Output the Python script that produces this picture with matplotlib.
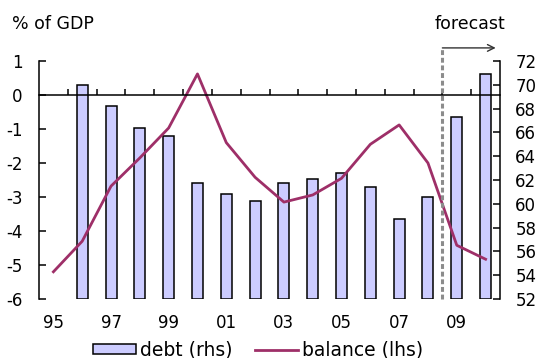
import matplotlib
matplotlib.use("Agg")
import matplotlib.pyplot as plt
from matplotlib.lines import Line2D
from matplotlib.patches import Patch

plt.rcParams["font.family"] = ["DejaVu Sans"]
plt.rcParams["axes.unicode_minus"] = False

years = ["95", "96", "97", "98", "99", "00", "01", "02",
         "03", "04", "05", "06", "07", "08", "09", "10"]
balance = [-5.2, -4.3, -2.68, -1.85, -0.97, 0.62, -1.4, -2.42,
           -3.15, -2.94, -2.45, -1.45, -0.88, -2.0, -4.42, -4.83]
debt_years = ["96", "97", "98", "99", "00", "01", "02", "03",
              "04", "05", "06", "07", "08", "09", "10"]
debt = [70.0, 68.25, 66.4, 65.7, 61.75, 60.85, 60.25, 61.75,
        62.1, 62.6, 61.4, 58.7, 60.6, 67.3, 70.9]
xlabels = ["95", "97", "99", "01", "03", "05", "07", "09"]
forecast_start = "09"

LINE_COLOR = "#9E2F68"
BAR_COLOR = "#CCCCFF"
FS = 12

fig = plt.figure(figsize=(5.41, 3.58), dpi=100)
ax = fig.add_axes([39 / 541, 1 - 299 / 358, 461 / 541, 238 / 358])
ax2 = ax.twinx()
ax2.set_zorder(ax.get_zorder() - 1)
ax.patch.set_visible(False)

pos = {y: i for i, y in enumerate(years)}

# debt bars on the right-hand scale
bx = [pos[y] for y in debt_years]
ax2.bar(bx, [d - 52 for d in debt], bottom=52, width=0.38,
        color=BAR_COLOR, edgecolor="black", linewidth=1.1)
ax2.set_ylim(52, 72)
ax2.set_yticks(range(52, 73, 2))
for s in ["left", "top", "bottom"]:
    ax2.spines[s].set_visible(False)
ax2.spines["right"].set_linewidth(1.1)
ax2.tick_params(axis="y", direction="in", length=5, width=1.1,
                labelsize=FS, pad=11)

# balance line on the left-hand scale
ax.plot([pos[y] for y in years], balance, color=LINE_COLOR, lw=2.0,
        solid_joinstyle="round")
ax.set_ylim(-6, 1)
ax.set_yticks(range(-6, 2))
ax.set_xlim(-0.5, len(years) - 0.5)
for s in ["top", "right"]:
    ax.spines[s].set_visible(False)
ax.spines["left"].set_linewidth(1.1)
ax.spines["bottom"].set_position(("data", 0))
ax.spines["bottom"].set_linewidth(1.1)
ax.tick_params(axis="y", direction="in", length=5, width=1.1,
               labelsize=FS, pad=12)
ax.set_xticks([])
ax.set_xticks([i + 0.5 for i in range(len(years) - 1)], minor=True)
ax.tick_params(axis="x", which="minor", direction="in", length=4, width=1.1)
ax.tick_params(axis="x", which="major", length=0, labelbottom=False)

xt = ax.get_xaxis_transform()
for lab in xlabels:
    ax.text(pos[lab], -0.1, lab, transform=xt, ha="center", va="center",
            fontsize=FS)

# forecast marker
fx = pos[forecast_start] - 0.5
ax.plot([fx, fx], [0.0, 1.06], transform=xt, color="#8c8c8c", lw=2.2,
        linestyle=(0, (1.6, 0.9)), clip_on=False, zorder=5)
ax.annotate("", xy=(15.35, 1.055), xytext=(fx, 1.055),
            xycoords=xt, textcoords=xt,
            arrowprops=dict(arrowstyle="->", color="#333333", lw=1.0,
                            shrinkA=0, shrinkB=0, mutation_scale=12))
ax.text(14.45, 1.155, "forecast", transform=xt, ha="center", va="center",
        fontsize=12.5)

fig.text(12 / 541, 1 - 24 / 358, "% of GDP", ha="left", va="center",
         fontsize=12.5)

handles = [Patch(facecolor=BAR_COLOR, edgecolor="black", linewidth=1.1),
           Line2D([], [], color=LINE_COLOR, lw=2.0)]
fig.legend(handles, ["debt (rhs)", "balance (lhs)"], loc="center",
           bbox_to_anchor=(258 / 541, 1 - 350 / 358), ncol=2, frameon=False,
           fontsize=13.5, handlelength=2.3, handleheight=0.45,
           handletextpad=0.2, columnspacing=1.2, borderpad=0)

fig.savefig("out.png", dpi=100)
